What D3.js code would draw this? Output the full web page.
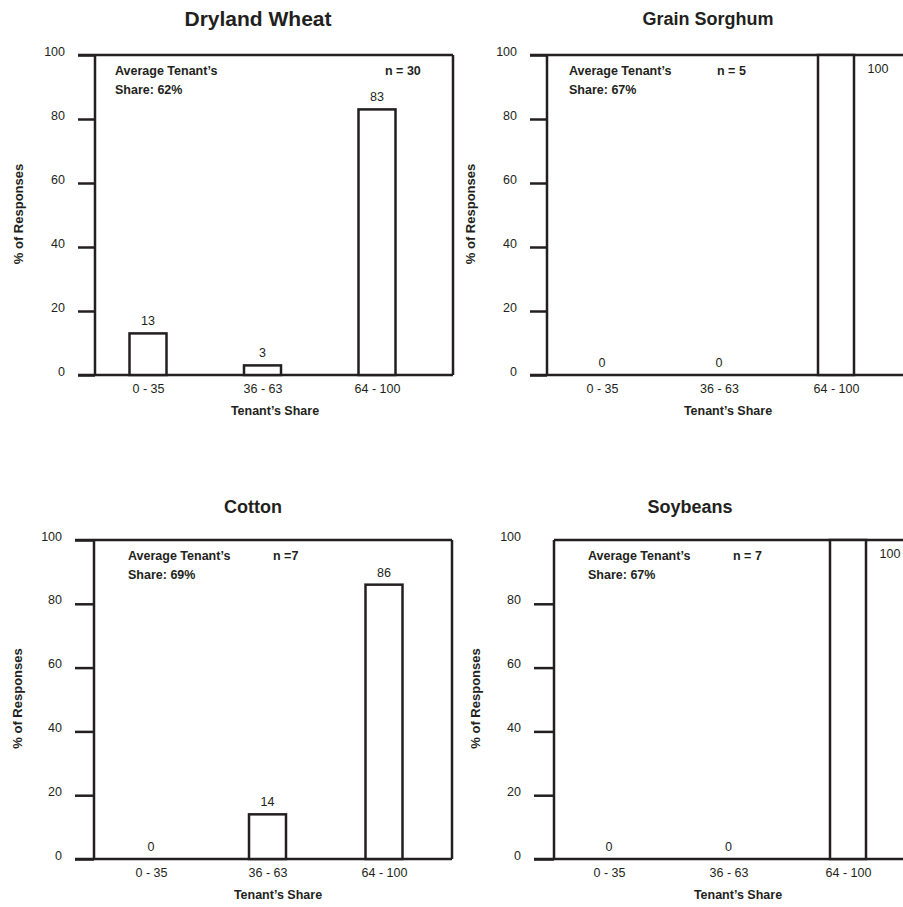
<!DOCTYPE html>
<html>
<head>
<meta charset="utf-8">
<script src="https://cdn.jsdelivr.net/npm/d3@7"></script>
<style>
  body { margin: 0; background: #fff; }
  svg { display: block; font-family: "Liberation Sans", Arial, Helvetica, sans-serif; }
  text { fill: #231f20; }
  .frame, .tick line, .bar { stroke: #231f20; stroke-width: 2.5; }
  .bar { fill: #fff; }
  .ttl { font-weight: bold; text-anchor: middle; }
  .note, .axt { font-weight: bold; font-size: 12.5px; }
  .val, .tick text { font-size: 12.5px; }
</style>
</head>
<body>
<svg width="903" height="907"></svg>
<script>
// Data
const crops = ["Dryland Wheat", "Grain Sorghum", "Cotton", "Soybeans"];
const shareBins = ["0 - 35", "36 - 63", "64 - 100"];
const wheatPct = [13, 3, 83];
const sorghumPct = [0, 0, 100];
const cottonPct = [0, 14, 86];
const soybeanPct = [0, 0, 100];
const avgShare = [62, 67, 69, 67];
const nLabels = ["n = 30", "n = 5", "n =7", "n = 7"];
const yTicks = [0, 20, 40, 60, 80, 100];

const seriesByCrop = [wheatPct, sorghumPct, cottonPct, soybeanPct];

// Panel layout (pixels)
const layout = [
  {ax: 95,  top: 55,  bot: 375, right: 453, tick0: 78,  cx: [148, 377], bw: 37, tx: 258, ty: 25.5, tsize: 21, nx: 115, nnx: 385, ylx: 22.5, xtx: 275, topTick: true},
  {ax: 547, top: 55,  bot: 375, right: 925, tick0: 530, cx: [602, 836], bw: 36, tx: 708, ty: 24.5, tsize: 18, nx: 569, nnx: 717, ylx: 474.5, xtx: 728, topTick: true},
  {ax: 94,  top: 540, bot: 859, right: 452, tick0: 75,  cx: [151, 384], bw: 37, tx: 253, ty: 512.5, tsize: 18, nx: 128, nnx: 273, ylx: 21.5, xtx: 278, topTick: true},
  {ax: 554, top: 540, bot: 859, right: 925, tick0: 534, cx: [609, 848], bw: 36, tx: 690, ty: 512.5, tsize: 18, nx: 588, nnx: 733, ylx: 479.5, xtx: 738, topTick: false}
];

const svg = d3.select("svg");

crops.forEach((crop, i) => {
  const L = layout[i];
  const values = seriesByCrop[i];
  const g = svg.append("g");

  const y = d3.scaleLinear().domain([0, 100]).range([L.bot, L.top]);
  const x = d3.scalePoint().domain(shareBins).range(L.cx);

  // title
  g.append("text").attr("class", "ttl")
    .attr("x", L.tx).attr("y", L.ty)
    .style("font-size", L.tsize + "px")
    .text(crop);

  // y axis with ticks pointing left
  const yAxis = g.append("g")
    .attr("transform", `translate(${L.ax},0)`)
    .call(d3.axisLeft(y).tickValues(yTicks).tickSize(L.ax - L.tick0).tickSizeOuter(0).tickPadding(13));
  yAxis.select(".domain").remove();
  yAxis.selectAll(".tick text").attr("dy", "0").style("font-family", null).attr("fill", "#231f20");
  if (!L.topTick) yAxis.selectAll(".tick").filter(d => d === 100).select("line").remove();
  yAxis.attr("font-family", null).attr("font-size", null);

  // frame
  const left = L.topTick ? L.tick0 : L.ax;
  g.append("path").attr("class", "frame").attr("fill", "none")
    .attr("d", `M${left},${y(100)}H${L.right}M${L.ax},${y(100)}V${y(0)}M${L.right},${y(100)}V${y(0)}M${L.tick0},${y(0)}H${L.right}`);

  // bars
  g.selectAll("rect.bar")
    .data(values.map((v, j) => ({v, bin: shareBins[j]})).filter(d => d.v > 0))
    .join("rect").attr("class", "bar")
    .attr("x", d => x(d.bin) - L.bw / 2)
    .attr("width", L.bw)
    .attr("y", d => y(d.v))
    .attr("height", d => y(0) - y(d.v));

  // value labels
  g.selectAll("text.val")
    .data(values.map((v, j) => ({v, bin: shareBins[j]})))
    .join("text").attr("class", "val")
    .attr("text-anchor", "middle")
    .attr("x", d => d.v >= 100 ? x(d.bin) + L.bw / 2 + 24 : x(d.bin))
    .attr("y", d => d.v >= 100 ? y(d.v) + 17.5 : y(d.v) - 8)
    .text(d => d.v);

  // x category labels
  const xAxis = g.append("g")
    .attr("transform", `translate(0,${L.bot})`)
    .call(d3.axisBottom(x).tickSize(0).tickPadding(9.6));
  xAxis.select(".domain").remove();
  xAxis.attr("font-family", null).attr("font-size", null);

  // annotations
  g.append("text").attr("class", "note").attr("x", L.nx).attr("y", L.top + 19.5).text("Average Tenant\u2019s");
  g.append("text").attr("class", "note").attr("x", L.nx).attr("y", L.top + 38.5).text(`Share: ${avgShare[i]}%`);
  g.append("text").attr("class", "note").attr("x", L.nnx).attr("y", L.top + 19.5).text(nLabels[i]);

  // axis titles
  g.append("text").attr("class", "axt").attr("text-anchor", "middle")
    .attr("x", L.xtx).attr("y", L.bot + 39.5).text("Tenant\u2019s Share");
  g.append("text").attr("class", "axt").attr("text-anchor", "middle")
    .attr("transform", `translate(${L.ylx},${(L.top + L.bot) / 2 - 1}) rotate(-90)`)
    .style("font-size", "13px")
    .text("% of Responses");
});
</script>
</body>
</html>
